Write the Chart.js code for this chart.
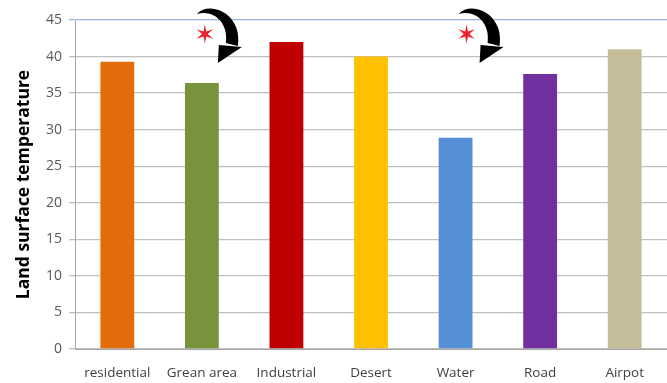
<!DOCTYPE html>
<html>
<head>
<meta charset="utf-8">
<script src="https://cdn.jsdelivr.net/npm/chart.js@4/dist/chart.umd.min.js"></script>
<style>
  html, body { margin: 0; padding: 0; background: #fff; }
  #wrap { width: 667px; height: 383px; }
</style>
</head>
<body>
<div id="wrap"><canvas id="lstChart"></canvas></div>
<script>
const categories = ['residential', 'Grean area', 'Industrial', 'Desert', 'Water', 'Road', 'Airpot']
const temps = [39.3, 36.4, 42.0, 40.0, 28.9, 37.6, 41.0]
const barColors = ['#e36c0a', '#77933c', '#c00000', '#ffc000', '#558ed5', '#7030a0', '#c4bd97']
const yTicks = [0, 5, 10, 15, 20, 25, 30, 35, 40, 45]
// categories that get the red star + curved arrow
const marked = ['Grean area', 'Water']

// draws the star and the black curved arrow above the marked bars
const markerPlugin = {
    id: 'markers',
    afterDatasetsDraw(chart) {
        const ctx = chart.ctx
        const x = chart.scales.x
        const y = chart.scales.y
        const offs = { 'Grean area': 3, 'Water': 11 }
        marked.forEach(name => {
            const i = categories.indexOf(name)
            const sx = x.getPixelForValue(i) + offs[name]
            const sy = y.getPixelForValue(45) + 14
            ctx.save()
            // red star
            ctx.fillStyle = '#f0202a'
            ctx.beginPath()
            for (let k = 0; k < 12; k++) {
                const r = k % 2 === 0 ? 9.5 : 2.8
                const a = -Math.PI / 2 + k * Math.PI / 6
                const px = sx + r * Math.cos(a), py = sy + r * Math.sin(a)
                if (k === 0) ctx.moveTo(px, py); else ctx.lineTo(px, py)
            }
            ctx.closePath()
            ctx.fill()
            // curved arrow body
            ctx.fillStyle = '#000'
            ctx.beginPath()
            ctx.moveTo(sx - 8, sy - 20)
            ctx.bezierCurveTo(sx + 5, sy - 34, sx + 38, sy - 20, sx + 33, sy + 12)
            ctx.lineTo(sx + 21, sy + 9)
            ctx.bezierCurveTo(sx + 24, sy - 12, sx + 8, sy - 25, sx - 8, sy - 20)
            ctx.closePath()
            ctx.fill()
            // arrow head
            ctx.beginPath()
            ctx.moveTo(sx + 14, sy + 11)
            ctx.lineTo(sx + 37, sy + 13)
            ctx.lineTo(sx + 13, sy + 29)
            ctx.closePath()
            ctx.fill()
            ctx.restore()
        })
    }
}

new Chart(document.getElementById('lstChart'), {
    type: 'bar',
    data: {
        labels: categories,
        datasets: [{
            label: 'Land surface temperature',
            data: temps,
            backgroundColor: barColors,
            borderWidth: 0,
            categoryPercentage: 0.8,
            barPercentage: 0.5
        }]
    },
    options: {
        responsive: true,
        maintainAspectRatio: false,
        animation: false,
        layout: { padding: { top: 20, right: -3, left: 14, bottom: 0 } },
        plugins: {
            legend: { display: false },
            tooltip: { enabled: false }
        },
        scales: {
            x: {
                afterFit(scale) { scale.height = 34 },
                grid: { display: false, drawTicks: false },
                border: { color: '#a6a6a6', width: 1 },
                ticks: {
                    color: '#404040',
                    font: { family: 'Open Sans', size: 13.5 },
                    padding: 16,
                    maxRotation: 0,
                    autoSkip: false
                }
            },
            y: {
                min: 0,
                max: 45,
                afterBuildTicks(scale) { scale.ticks = yTicks.map(v => ({ value: v })) },
                grid: {
                    color: ctx => ctx.tick && ctx.tick.value === 45 ? '#95b3d7' : '#bfbfbf',
                    lineWidth: 1.3,
                    drawTicks: true,
                    tickLength: 6
                },
                border: { color: '#a6a6a6', width: 1 },
                ticks: {
                    color: '#595959',
                    font: { family: 'Open Sans', size: 14 },
                    padding: 7
                },
                title: {
                    display: true,
                    text: 'Land surface temperature',
                    color: '#000',
                    font: { family: 'Open Sans', size: 17.5, weight: 'bold' },
                    padding: { top: 0, bottom: 4 }
                }
            }
        }
    },
    plugins: [markerPlugin]
})
</script>
</body>
</html>
